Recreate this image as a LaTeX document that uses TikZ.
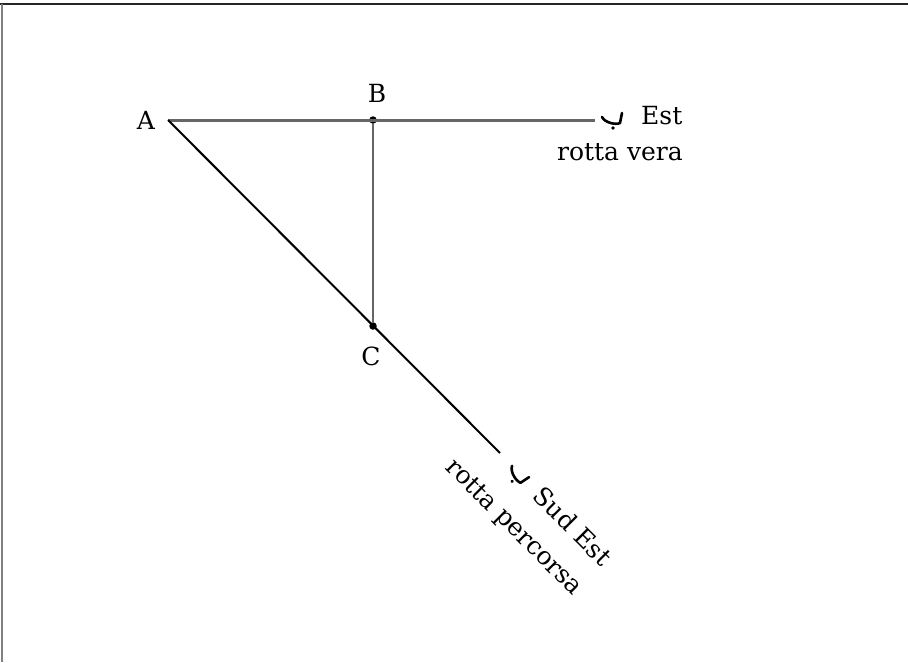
\documentclass[tikz,border=0pt]{standalone}
\usepackage{fontspec}
\setmainfont{DejaVu Serif}
\begin{document}
\begin{tikzpicture}[x=1pt,y=-1pt,
  lbl/.style={font=\fontsize{25}{28}\selectfont, inner sep=0pt},
  dotp/.style={circle,fill=black,inner sep=0pt,minimum size=7.5pt},
  hook/.style={line width=2.6pt, line cap=round, line join=round}]
\useasboundingbox (0,0) rectangle (908,662);
\draw[line width=2pt, black!85] (0,4) -- (908,4);
\draw[line width=2pt, gray] (2,4) -- (2,662);
\coordinate (A) at (168,120);
\coordinate (E) at (595,120);
\coordinate (S) at (500,453);
\node[dotp] (B) at (373,120) {};
\node[dotp] (C) at (373,326) {};
\draw[line width=3pt, black!60] (A) -- (E);
\draw[line width=2pt] (A) -- (S);
\draw[line width=1.5pt, black!60] (B) -- (C);
\node[lbl] (lA) at (146,120) {A};
\node[lbl] (lB) at (377,93) {B};
\node[lbl] (lC) at (371,356) {C};
\node[lbl, anchor=west] (lE) at (641,116) {Est};
\node[lbl] (lRV) at (620,152) {rotta vera};
\begin{scope}[shift={(612,120)}]
\coordinate (hk) at (0,0);
\draw[hook] (-10,-3) .. controls (-7,3) and (4,5) .. (8,3) -- (10,-7);
\fill (1,8) circle (1.8pt);
\end{scope}
\begin{scope}[shift={(517,475)}, rotate=-45]
\coordinate (hk2) at (0,0);
\draw[hook] (-10,-3) .. controls (-7,3) and (4,5) .. (8,3) -- (10,-7);
\fill (1,8) circle (1.8pt);
\end{scope}
\node[lbl, rotate=-45] (lSE) at (573,526) {Sud Est};
\node[lbl, rotate=-45] (lRP) at (513,528) {rotta percorsa};
\end{tikzpicture}
\end{document}
